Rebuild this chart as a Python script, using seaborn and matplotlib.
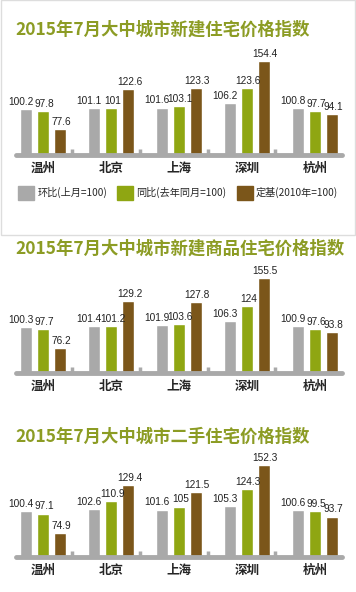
import matplotlib
matplotlib.use("Agg")
import matplotlib.pyplot as plt
import matplotlib.patches as mpatches
from matplotlib import font_manager
import seaborn as sns
import pandas as pd

# 城市
cities = ["温州", "北京", "上海", "深圳", "杭州"]
series_names = ["环比(上月=100)", "同比(去年同月=100)", "定基(2010年=100)"]

# 新建住宅
new_mom = [100.2, 101.1, 101.6, 106.2, 100.8]
new_yoy = [97.8, 101, 103.1, 123.6, 97.7]
new_base = [77.6, 122.6, 123.3, 154.4, 94.1]

# 新建商品住宅
comm_mom = [100.3, 101.4, 101.9, 106.3, 100.9]
comm_yoy = [97.7, 101.2, 103.6, 124, 97.6]
comm_base = [76.2, 129.2, 127.8, 155.5, 93.8]

# 二手住宅
used_mom = [100.4, 102.6, 101.6, 105.3, 100.6]
used_yoy = [97.1, 110.9, 105, 124.3, 99.5]
used_base = [74.9, 129.4, 121.5, 152.3, 93.7]

titles = ["2015年7月大中城市新建住宅价格指数",
          "2015年7月大中城市新建商品住宅价格指数",
          "2015年7月大中城市二手住宅价格指数"]

GRAY = "#a9a9a9"
GREEN = "#8fa612"
BROWN = "#7b561a"
TITLE_C = "#8c9c24"
palette = [GRAY, GREEN, BROWN]

sns.set_theme(style="white")
plt.rcParams["font.family"] = ["Noto Sans CJK SC", "DejaVu Sans"]

installed = {f.name for f in font_manager.fontManager.ttflist}
num_font = "Liberation Sans Narrow" if "Liberation Sans Narrow" in installed else "Liberation Sans"

W, H = 356, 592
fig = plt.figure(figsize=(W / 100, H / 100), dpi=100)
fig.patch.set_facecolor("white")


def make_df(mom, yoy, base):
    rows = []
    for name, vals in zip(series_names, [mom, yoy, base]):
        for c, v in zip(cities, vals):
            rows.append({"city": c, "series": name, "value": v})
    return pd.DataFrame(rows)


def px_axes(left, right, bottom, top):
    return fig.add_axes([left / W, 1 - bottom / H, (right - left) / W, (bottom - top) / H])


panels = [
    (make_df(new_mom, new_yoy, new_base), 155, 30),
    (make_df(comm_mom, comm_yoy, comm_base), 373, 249),
    (make_df(used_mom, used_yoy, used_base), 557, 437),
]

ymin, ymax = 48, 165
label_shift = [-3.8, 1.0, 1.0]
axes = []
for i, (df, base_px, title_px) in enumerate(panels):
    top_px = base_px - (ymax - ymin) * 0.885
    ax = px_axes(16, 342, base_px, top_px)
    sns.barplot(data=df, x="city", y="value", hue="series", palette=palette,
                hue_order=series_names, order=cities, width=0.75, gap=0.3,
                saturation=1, ax=ax, legend=(i == 0))
    ax.set_ylim(ymin, ymax)
    ax.set_xlim(-0.4, 4.4)
    for k, cont in enumerate(ax.containers):
        anns = ax.bar_label(cont, labels=[f"{v:g}" for v in cont.datavalues],
                            fontsize=7.3, padding=1.5, color="#222222",
                            family=[num_font, "DejaVu Sans"])
        for a in anns:
            a.xyann = (label_shift[k], 1.5)
    # separator stubs
    ax.vlines([k + 0.42 for k in range(4)], ymin, ymin + 7, color=GRAY, lw=2.5)
    ax.axhline(ymin, color=GRAY, lw=3.5, clip_on=False)
    for s in ax.spines.values():
        s.set_visible(False)
    ax.set_yticks([])
    ax.set_xlabel("")
    ax.set_ylabel("")
    ax.tick_params(axis="x", length=0, pad=5, labelsize=9)
    for lab in ax.get_xticklabels():
        lab.set_fontweight("bold")
    ax.set_facecolor("none")
    fig.text(15 / W, 1 - title_px / H, titles[i], fontsize=12.5, fontweight="bold",
             color=TITLE_C, va="center", ha="left")
    axes.append(ax)

axes[0].get_legend().remove()
handles = [mpatches.Patch(color=c) for c in palette]
fig.legend(handles, series_names, loc="center left",
           bbox_to_anchor=(14 / W, 1 - 193 / H), ncol=3, frameon=False,
           fontsize=7.3, handlelength=1.6, handleheight=1.6, handletextpad=0.3,
           columnspacing=1.0, borderaxespad=0)

# panel 1 frame
fig.patches.append(mpatches.Rectangle((0.5 / W, 1 - 235 / H), (W - 2) / W, 234.5 / H,
                                      transform=fig.transFigure, fill=False,
                                      edgecolor="#dddddd", lw=1))

fig.savefig("out.png", dpi=100)
plt.close(fig)
